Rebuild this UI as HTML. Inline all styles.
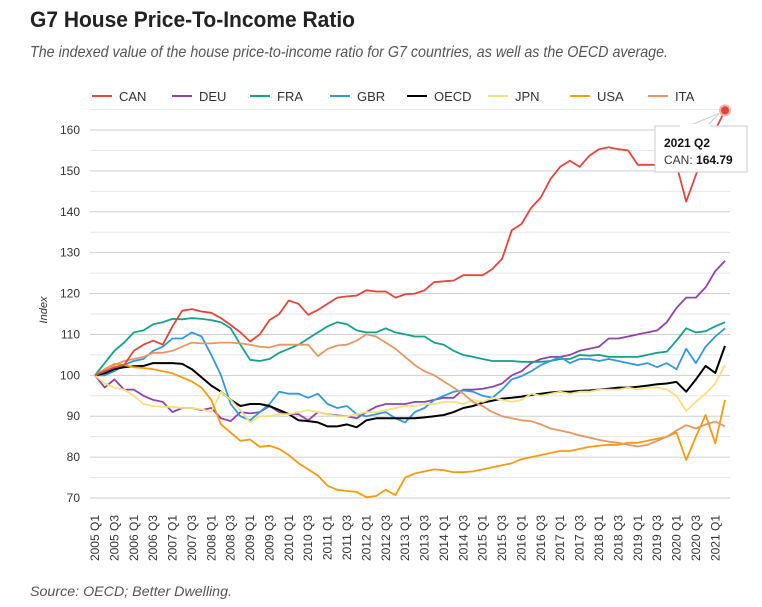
<!DOCTYPE html>
<html><head><meta charset="utf-8"><style>
body{margin:0;background:#fff;width:762px;height:602px;overflow:hidden;font-family:"Liberation Sans",sans-serif}
</style></head><body>
<svg width="762" height="602" xmlns="http://www.w3.org/2000/svg">
<text x="30" y="27" font-size="22" font-weight="bold" fill="#222" textLength="325" lengthAdjust="spacingAndGlyphs">G7 House Price-To-Income Ratio</text>
<text x="30" y="57" font-size="16" font-style="italic" fill="#555" textLength="638" lengthAdjust="spacingAndGlyphs">The indexed value of the house price-to-income ratio for G7 countries, as well as the OECD average.</text>
<g id="grid"></g><g id="yaxis"></g><g id="xaxis"></g><g id="legend"></g><g id="series"></g>
<text transform="translate(47,310) rotate(-90)" font-size="11" font-style="italic" fill="#333" text-anchor="middle">Index</text>
<text x="30" y="596" font-size="14" font-style="italic" fill="#555" textLength="202" lengthAdjust="spacingAndGlyphs">Source: OECD; Better Dwelling.</text>
<g id="tooltip"></g>
</svg>
<script>
const names=["CAN","DEU","FRA","GBR","OECD","JPN","USA","ITA"];
const colors=["#e0463c","#8e44ad","#16a085","#3498db","#000000","#f3e183","#f39c12","#e59866"];
const CAN=[100,101,102,102.5,106,107.5,108.5,107.5,112,115.8,116.2,115.6,115.3,114,112.3,110.5,108.3,110,113.5,115,118.3,117.5,114.8,116,117.5,119,119.3,119.5,120.8,120.5,120.5,119,119.8,120,120.8,122.8,123,123.2,124.5,124.5,124.5,126,128.5,135.5,137,141,143.5,148,151,152.5,151,153.7,155.3,155.8,155.3,155,151.5,151.5,151.5,151.5,151.5,142.5,149,155,160,164.79];
const DEU=[100,97,99,96.5,96.5,95,94,93.5,91,92,92,91.5,92,89.5,88.8,91,90.7,91,92.5,91,90.5,90.5,89,91,90.5,90.2,90,89.5,91,92.3,93,93,93,93.5,93.5,94,94.5,94.5,96.5,96.5,96.7,97.2,98,100,101,103,104,104.5,104.5,105,106,106.5,107,109,109,109.5,110,110.5,111,113,116.5,119,119,121.5,125.5,128];
const FRA=[100,103,106,108,110.5,111,112.5,113,113.8,113.7,114,113.8,113.5,113,111.5,107.5,103.8,103.5,104,105.5,106.5,107.5,109,110.5,112,113,112.5,111,110.5,110.5,111.5,110.5,110,109.5,109.5,108,107.5,106,105,104.5,104,103.5,103.5,103.5,103.3,103.3,103.3,103.5,104,104,105,104.8,105,104.5,104.5,104.5,104.5,105,105.5,105.8,108.5,111.5,110.5,110.8,112,113];
const GBR=[100,100,101,102.5,103.5,104,106,107,109,109,110.5,109.5,105,100,93,90,89,91,93,96,95.5,95.5,94.5,95.5,93,92,92.5,90.5,90,90.5,91,89.5,88.5,91,92,94,95,96,96.3,96,95,94.5,96.5,99,99.8,101,102.5,103.5,104.5,103,104,104,103.5,104,103.5,103,102.5,103,102,103,101.5,106.5,103,107,109.5,111.5];
const OECD=[100,100.5,101.5,102,102.2,102.3,103,103,103,102.8,101.5,99.5,97.5,96,94,92.5,93,93,92.5,91.5,90.5,89,88.8,88.5,87.5,87.5,88,87.3,89,89.5,89.5,89.5,89.5,89.5,89.7,90,90.3,91,92,92.5,93.3,93.8,94.3,94.5,94.8,95.2,95.5,95.8,96,96,96.2,96.3,96.5,96.7,97,97,97.2,97.5,97.8,98,98.4,96,99,102.3,100.6,107.2];
const JPN=[100,98,97,96.5,95,93,92.5,92.3,92.3,92,92,91.7,91,96,94,91.5,88.5,90,90,90.5,90.5,91,91.5,91,90.5,90,90,90.5,91,91,91.5,92,92.5,92.5,93,93,93.5,93.5,93,94,93.5,94.5,94,93.5,94,95.5,95,95.5,96,95.5,96,96,96.5,96.5,96.5,97,96.5,97,97,96.5,95,91.3,93.5,95.5,98,102.5];
const USA=[100,101.5,102.8,102.5,102,101.8,101.5,101,100.5,99.5,98.5,97,94,88,86,84,84.3,82.5,82.8,82,80.5,78.5,77,75.5,73,72,71.7,71.5,70.2,70.5,72,70.7,75,76,76.5,77,76.8,76.3,76.3,76.5,77,77.5,78,78.5,79.5,80,80.5,81,81.5,81.5,82,82.5,82.8,83,83,83.5,83.5,84,84.5,85,86,79.3,85,90.3,83.4,94];
const ITA=[100,101.5,102.5,103.5,104,104.5,105.5,105.5,106,107,108,107.8,107.8,108,108,107.8,107.5,107,106.8,107.5,107.5,107.5,107.5,104.7,106.5,107.3,107.5,108.5,110,109.5,108,106.5,104.5,102.5,101,100,98.5,97,95.5,93.5,92.5,91,90,89.5,89,88.8,88,87,86.5,86,85.3,84.8,84.2,83.8,83.5,83,82.6,83,84,85,86.5,87.8,87,88,88.7,87.5];
const yTicks=[70,80,90,100,110,120,130,140,150,160];
const startYear=2005;
const series=[CAN,DEU,FRA,GBR,OECD,JPN,USA,ITA];
const NS="http://www.w3.org/2000/svg";
const X0=95,X1=725,Y0=498,YMIN=70,YMAX=160,YTOP=130;
const N=CAN.length;
const xs=i=>X0+(X1-X0)*i/(N-1);
const ys=v=>Y0-(v-YMIN)*(Y0-YTOP)/(YMAX-YMIN);
function mk(tag,attrs,parent){const e=document.createElementNS(NS,tag);for(const k in attrs)e.setAttribute(k,attrs[k]);parent.appendChild(e);return e;}
const grid=document.getElementById('grid'),ya=document.getElementById('yaxis'),xa=document.getElementById('xaxis'),lg=document.getElementById('legend'),sg=document.getElementById('series');
for(let v=70;v<=165;v+=5){const l=mk('line',{x1:90,x2:730,y1:ys(v),y2:ys(v),stroke:v%10===0?'#cfcfcf':'#e6e6e6','stroke-width':1},grid);

}
yTicks.forEach(v=>{const t=mk('text',{x:80,y:ys(v)+4,'text-anchor':'end','font-size':12,fill:'#333'},ya);t.textContent=v;

});
for(let i=0;i<N;i+=2){const yr=startYear+Math.floor(i/4),q=(i%4)+1;const x=xs(i)+4;
const t=mk('text',{transform:`translate(${x},515) rotate(-90)`,'text-anchor':'end','font-size':12,fill:'#333'},xa);t.textContent=yr+' Q'+q;

}
const lx=[92,172,250,330,407,488,570,648];
names.forEach((n,k)=>{const g=mk('g',{},lg);


mk('line',{x1:lx[k],x2:lx[k]+20,y1:96,y2:96,stroke:colors[k],'stroke-width':2},g);
const t=mk('text',{x:lx[k]+27,y:101,'font-size':13,fill:'#333'},g);t.textContent=n;});
series.forEach((s,k)=>{if(k===0)return;draw(s,k);});draw(CAN,0);
function draw(s,k){const p=mk('polyline',{points:s.map((v,i)=>xs(i).toFixed(1)+','+ys(v).toFixed(1)).join(' '),fill:'none',stroke:colors[k],'stroke-width':k===4?2:1.8,'stroke-linejoin':'round'},sg);

}
const tt=document.getElementById('tooltip');
const px=xs(N-1),py=ys(CAN[N-1]);
mk('path',{d:`M686 127 L${px-6} ${py+3} L706 127 Z`,fill:'#fff',stroke:'#ccc'},tt);
mk('rect',{x:655,y:126,width:92,height:46,fill:'#fff',stroke:'#ccc'},tt);
mk('rect',{x:680,y:124,width:30,height:4,fill:'#fff'},tt);
mk('circle',{cx:px,cy:py,r:5,fill:colors[0],stroke:'#f3b0aa','stroke-width':2},tt);
let t=mk('text',{x:664,y:147,'font-size':12,'font-weight':'bold',fill:'#111'},tt);t.textContent='2021 Q2';
t=mk('text',{x:664,y:164,'font-size':12,fill:'#333'},tt);t.innerHTML='CAN: <tspan font-weight="bold" fill="#111">164.79</tspan>';
</script>
</body></html>
